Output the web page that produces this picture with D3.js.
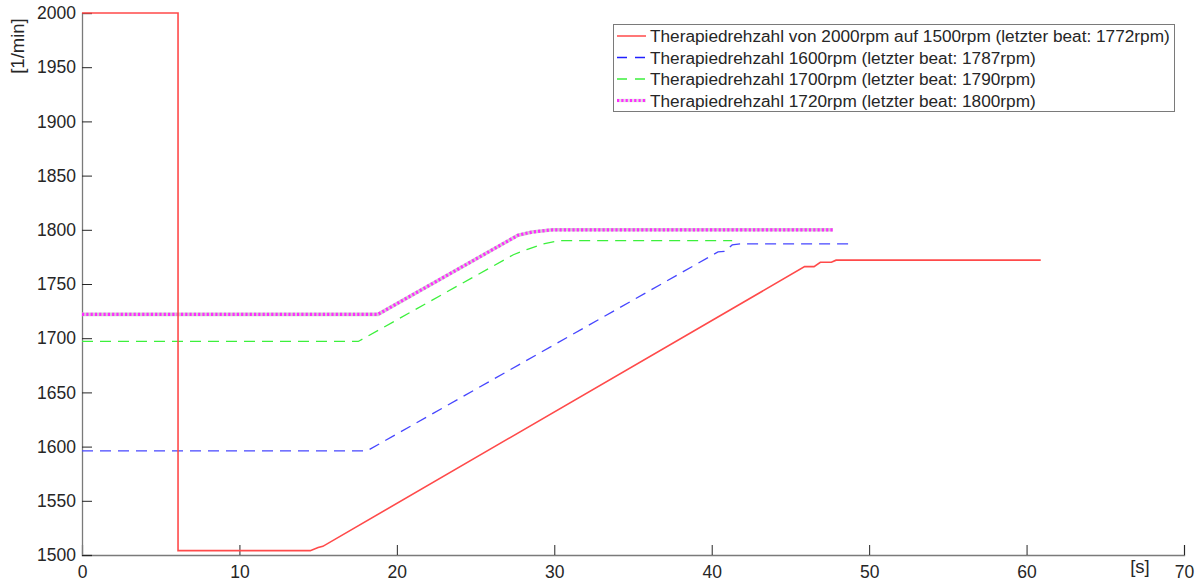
<!DOCTYPE html>
<html>
<head>
<meta charset="utf-8">
<script src="https://cdn.jsdelivr.net/npm/d3@7/dist/d3.min.js"></script>
<style>
  html, body { margin: 0; padding: 0; background: #fff; }
  svg { display: block; font-family: "Liberation Sans", Arial, Helvetica, sans-serif; }
</style>
</head>
<body>
<svg id="chart" width="1204" height="582"></svg>
<script>
// Zeit [s] und Drehzahl [1/min] je Therapiedrehzahl-Verlauf
const redTime   = [0, 6.1, 6.1, 14.5, 15.0, 15.3, 45.9, 46.5, 46.9, 47.6, 47.9, 60.9];
const redRpm    = [2000, 2000, 1504, 1504, 1507, 1508, 1766, 1766, 1770, 1770, 1772, 1772];

const blueTime  = [0, 18.1, 40.4, 40.8, 41.3, 41.8, 48.7];
const blueRpm   = [1596, 1596, 1779.6, 1780, 1786, 1787, 1787];

const greenTime = [0, 17.55, 27.4, 28.3, 29.3, 30.3, 41.3];
const greenRpm  = [1697, 1697, 1777, 1782, 1787, 1790, 1790];

const magTime   = [0, 18.8, 27.7, 28.6, 29.9, 47.7];
const magRpm    = [1722, 1722, 1795, 1798, 1800, 1800];

const xTicks = [0, 10, 20, 30, 40, 50, 60, 70];
const yTicks = [1500, 1550, 1600, 1650, 1700, 1750, 1800, 1850, 1900, 1950, 2000];

const legendLabels = [
  "Therapiedrehzahl von 2000rpm auf 1500rpm (letzter beat: 1772rpm)",
  "Therapiedrehzahl 1600rpm (letzter beat: 1787rpm)",
  "Therapiedrehzahl 1700rpm (letzter beat: 1790rpm)",
  "Therapiedrehzahl 1720rpm (letzter beat: 1800rpm)"
];

(function () {
  const svg = d3.select("#chart");
  const plotLeft = 82, plotRight = 1184, plotTop = 13, plotBottom = 555;

  const x = d3.scaleLinear().domain([0, 70]).range([plotLeft, plotRight]);
  const y = d3.scaleLinear().domain([1500, 2000]).range([plotBottom, plotTop]);

  const zip = (t, v) => t.map((d, i) => [d, v[i]]);
  const line = d3.line().x(d => x(d[0])).y(d => y(d[1]));

  // Achsen (Ticks nach innen)
  const xAxis = d3.axisBottom(x).tickValues(xTicks).tickSize(-10).tickPadding(12).tickFormat(d3.format("d"));
  const yAxis = d3.axisLeft(y).tickValues(yTicks).tickSize(-10).tickPadding(6).tickFormat(d3.format("d"));

  const gx = svg.append("g").attr("transform", `translate(0,${plotBottom})`).call(xAxis);
  const gy = svg.append("g").attr("transform", `translate(${plotLeft},0)`).call(yAxis);

  [gx, gy].forEach(g => {
    g.select(".domain").attr("stroke", "#7a7a7a").attr("stroke-width", 1.3);
    g.selectAll(".tick line").attr("stroke", "#262626").attr("stroke-width", 1);
    g.selectAll(".tick text").attr("fill", "#262626").attr("font-size", 17.5)
      .attr("font-family", "'Liberation Sans', Arial, sans-serif");
  });
  gx.selectAll(".tick text").attr("dy", "0.62em");

  // Achsenbeschriftungen
  svg.append("text").attr("x", 1140).attr("y", 573).attr("text-anchor", "middle")
    .attr("font-size", 18.5).attr("fill", "#262626").text("[s]");
  svg.append("text").attr("transform", "translate(24,46) rotate(-90)").attr("text-anchor", "middle")
    .attr("font-size", 18.5).attr("fill", "#262626").text("[1/min]");

  const plot = svg.append("g");

  // Verläufe
  plot.append("path").datum(zip(blueTime, blueRpm)).attr("d", line)
    .attr("fill", "none").attr("stroke", "#4646ff").attr("stroke-width", 1.3)
    .attr("stroke-dasharray", "11,7");
  plot.append("path").datum(zip(greenTime, greenRpm)).attr("d", line)
    .attr("fill", "none").attr("stroke", "#3cf03c").attr("stroke-width", 1.3)
    .attr("stroke-dasharray", "11,7");
  plot.append("path").datum(zip(magTime, magRpm)).attr("d", line)
    .attr("fill", "none").attr("stroke", "#cfcfcf").attr("stroke-width", 3.6);
  plot.append("path").datum(zip(magTime, magRpm)).attr("d", line)
    .attr("fill", "none").attr("stroke", "#ff2cff").attr("stroke-width", 3.2)
    .attr("stroke-dasharray", "2.2,2.1");
  plot.append("path").datum(zip(redTime, redRpm)).attr("d", line)
    .attr("fill", "none").attr("stroke", "#ff4a4a").attr("stroke-width", 1.6);

  // Legende
  const lg = svg.append("g");
  lg.append("rect").attr("x", 613.5).attr("y", 24.5).attr("width", 561).attr("height", 87)
    .attr("fill", "#fff").attr("stroke", "#7a7a7a").attr("stroke-width", 1);

  const legendStyles = [
    { stroke: "#ff4a4a", width: 1.5, dash: null, under: false },
    { stroke: "#2020ff", width: 1.3, dash: "10,8", under: false },
    { stroke: "#3cf03c", width: 1.3, dash: "10,8", under: false },
    { stroke: "#ff2cff", width: 3.2, dash: "2.2,2.1", under: true }
  ];
  const rowY = [36, 57.5, 79, 100.5];

  legendLabels.forEach((lab, i) => {
    const s = legendStyles[i];
    if (s.under) {
      lg.append("line").attr("x1", 617).attr("x2", 646).attr("y1", rowY[i]).attr("y2", rowY[i])
        .attr("stroke", "#e0e0e0").attr("stroke-width", 3.4);
    }
    lg.append("line").attr("x1", 617).attr("x2", 646).attr("y1", rowY[i]).attr("y2", rowY[i])
      .attr("stroke", s.stroke).attr("stroke-width", s.width)
      .attr("stroke-dasharray", s.dash);
    lg.append("text").attr("class", "lgtext").attr("x", 650).attr("y", rowY[i]).attr("dy", "0.36em")
      .attr("font-size", 15).attr("fill", "#262626").text(lab);
  });

  // Schriftgröße der Legende an die Boxbreite anpassen
  const first = lg.select(".lgtext").node();
  const w = first.getComputedTextLength();
  const fs = 15 * 520 / w;
  lg.selectAll(".lgtext").attr("font-size", fs);
})();
</script>
</body>
</html>
